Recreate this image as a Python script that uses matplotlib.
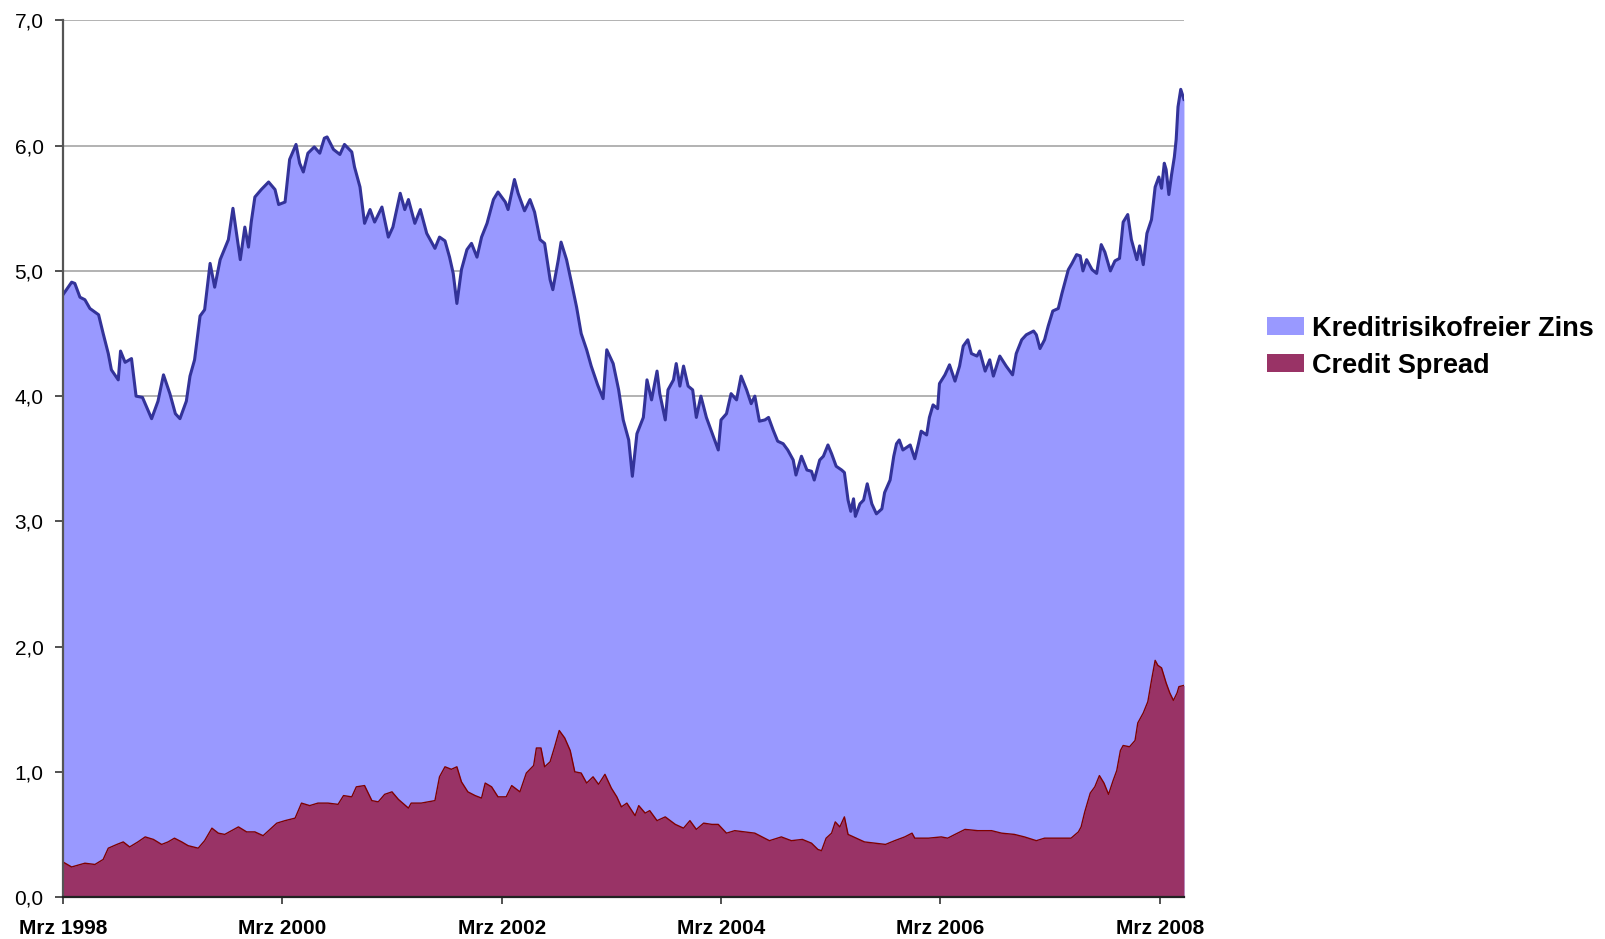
#!/usr/bin/env python3
from __future__ import annotations

import matplotlib

matplotlib.use("Agg")
import matplotlib.pyplot as plt
from matplotlib.patches import Patch

OUT = "out.png"

# months since Mrz 1998 / Rendite gesamt (Oberkante = Zins + Spread), in %
TOTAL_M = [
    0, 0.95, 1.3, 1.86, 2.4, 2.95, 3.9, 4.4, 4.96, 5.3, 6.05, 6.3, 6.8, 7.5, 8.0, 8.7, 9.7, 10.4,
    11.0, 11.7, 12.3, 12.8, 13.5, 13.9, 14.4, 15.0, 15.5, 16.1, 16.6, 17.2, 18.1, 18.6, 19.4, 19.9,
    20.3, 20.6, 21.0, 21.7, 22.5, 23.2, 23.6, 24.3, 24.8, 25.5, 25.9, 26.3, 26.8, 27.5, 28.1, 28.6,
    28.9, 29.6, 30.3, 30.8, 31.6, 31.9, 32.5, 33.0, 33.6, 34.1, 34.9, 35.6, 36.1, 36.9, 37.4, 37.8,
    38.5, 39.1, 39.8, 40.7, 41.2, 41.8, 42.3, 42.7, 43.1, 43.6, 44.2, 44.7, 45.3, 45.8, 46.4, 47.1,
    47.6, 48.4, 48.7, 49.4, 49.8, 50.5, 51.1, 51.6, 52.2, 52.7, 53.3, 53.6, 54.2, 54.5, 55.1, 55.6,
    56.2, 56.7, 57.3, 57.8, 58.5, 59.1, 59.5, 60.2, 60.8, 61.3, 61.9, 62.3, 62.8, 63.5, 63.9, 64.4,
    65.0, 65.3, 65.9, 66.2, 66.8, 67.1, 67.5, 67.9, 68.4, 68.9, 69.3, 69.8, 70.4, 70.9, 71.3, 71.7,
    72.0, 72.6, 73.1, 73.7, 74.2, 74.8, 75.3, 75.7, 76.2, 76.8, 77.2, 77.7, 78.2, 78.8, 79.3, 79.9,
    80.2, 80.8, 81.4, 81.9, 82.2, 82.8, 83.2, 83.7, 84.1, 84.6, 85.2, 85.5, 85.9, 86.2, 86.5, 86.7,
    87.2, 87.6, 88.0, 88.5, 89.0, 89.6, 89.9, 90.5, 90.9, 91.2, 91.5, 91.9, 92.7, 93.2, 93.6, 93.9,
    94.5, 94.8, 95.2, 95.7, 95.9, 96.5, 97.0, 97.6, 98.1, 98.5, 99.0, 99.4, 100.0, 100.3, 100.9,
    101.4, 101.8, 102.5, 103.2, 103.9, 104.3, 104.9, 105.4, 106.2, 106.5, 106.9, 107.4, 107.8,
    108.3, 108.9, 109.3, 109.6, 110.0, 110.4, 110.9, 111.3, 111.6, 112.0, 112.6, 113.1, 113.6,
    114.0, 114.6, 115.1, 115.6, 116.0, 116.5, 116.9, 117.5, 117.8, 118.2, 118.6, 119.1, 119.5,
    119.9, 120.2, 120.5, 120.7, 121.0, 121.3, 121.6, 121.8, 122.0, 122.3, 122.65,
]
TOTAL_V = [
    4.81, 4.91, 4.90, 4.79, 4.77, 4.70, 4.65, 4.50, 4.34, 4.21, 4.13, 4.36, 4.27, 4.30, 4.00, 3.99, 3.82, 3.96,
    4.17, 4.02, 3.86, 3.82, 3.96, 4.16, 4.29, 4.64, 4.69, 5.06, 4.87, 5.09, 5.25, 5.50, 5.09, 5.35,
    5.19, 5.39, 5.59, 5.65, 5.71, 5.65, 5.53, 5.55, 5.89, 6.01, 5.86, 5.79, 5.94, 5.99, 5.94, 6.06,
    6.07, 5.97, 5.93, 6.01, 5.95, 5.83, 5.67, 5.38, 5.49, 5.39, 5.51, 5.27, 5.35, 5.62, 5.49, 5.57,
    5.38, 5.49, 5.30, 5.18, 5.27, 5.24, 5.11, 4.98, 4.74, 5.01, 5.17, 5.22, 5.11, 5.27, 5.38, 5.57,
    5.63, 5.55, 5.49, 5.73, 5.62, 5.48, 5.57, 5.47, 5.25, 5.22, 4.93, 4.85, 5.09, 5.23, 5.09, 4.92,
    4.71, 4.50, 4.37, 4.24, 4.09, 3.98, 4.37, 4.26, 4.05, 3.81, 3.65, 3.36, 3.70, 3.83, 4.13, 3.97,
    4.20, 4.02, 3.81, 4.05, 4.13, 4.26, 4.08, 4.24, 4.08, 4.05, 3.83, 4.00, 3.83, 3.73, 3.65, 3.57,
    3.81, 3.86, 4.02, 3.97, 4.16, 4.05, 3.94, 4.00, 3.80, 3.81, 3.83, 3.73, 3.64, 3.62, 3.57, 3.49,
    3.37, 3.52, 3.41, 3.40, 3.33, 3.49, 3.52, 3.61, 3.54, 3.44, 3.41, 3.39, 3.17, 3.08, 3.18, 3.04,
    3.14, 3.17, 3.30, 3.14, 3.06, 3.10, 3.23, 3.33, 3.52, 3.62, 3.65, 3.57, 3.61, 3.50, 3.62, 3.72,
    3.69, 3.83, 3.93, 3.90, 4.10, 4.17, 4.25, 4.12, 4.24, 4.40, 4.45, 4.34, 4.32, 4.36, 4.20,
    4.29, 4.16, 4.32, 4.24, 4.17, 4.34, 4.45, 4.49, 4.52, 4.49, 4.38, 4.45, 4.56,
    4.68, 4.70, 4.82, 4.90, 5.01, 5.06, 5.13, 5.12, 5.00, 5.09, 5.01, 4.98, 5.21,
    5.15, 5.00, 5.08, 5.10, 5.39, 5.45, 5.25, 5.09, 5.20, 5.05, 5.30, 5.41, 5.67,
    5.75, 5.66, 5.86, 5.81, 5.61, 5.77, 5.91, 6.05, 6.31, 6.45, 6.37,
]

# Credit Spread, in %
SPREAD_M = [
    0, 0.95, 2.4, 3.5, 4.4, 4.96, 5.9, 6.6, 7.3, 8.2, 9.0, 9.9, 10.8, 11.5, 12.2, 13.0, 13.7, 14.8,
    15.5, 16.3, 17.0, 17.7, 19.2, 20.1, 21.0, 21.9, 22.8, 23.4, 24.3, 25.4, 26.1, 27.0, 27.9, 29.0,
    30.1, 30.7, 31.6, 32.1, 33.0, 33.8, 34.5, 35.2, 36.0, 36.7, 37.8, 38.1, 39.2, 40.7, 41.2, 41.8,
    42.5, 43.1, 43.6, 44.3, 45.1, 45.8, 46.2, 46.9, 47.6, 48.5, 49.1, 50.0, 50.7, 51.5, 51.8, 52.3,
    52.7, 53.3, 53.8, 54.3, 54.9, 55.5, 56.0, 56.7, 57.3, 58.0, 58.6, 59.3, 60.0, 60.6, 61.1, 61.7,
    62.6, 63.0, 63.7, 64.2, 65.0, 65.9, 67.0, 67.9, 68.6, 69.3, 70.1, 71.0, 71.7, 72.6, 73.5, 74.6,
    75.7, 76.5, 77.3, 78.6, 79.7, 80.9, 81.9, 82.6, 83.0, 83.5, 84.1, 84.5, 85.0, 85.5, 85.9, 86.8,
    87.7, 88.9, 90.0, 91.0, 92.1, 92.9, 93.2, 94.7, 96.1, 96.8, 97.6, 98.7, 100.1, 101.6, 102.7,
    104.1, 105.2, 106.5, 107.4, 108.9, 110.3, 111.1, 111.4, 111.8, 112.4, 112.9, 113.4, 113.9,
    114.4, 114.9, 115.3, 115.7, 116.0, 116.7, 117.3, 117.6, 118.2, 118.7, 119.1, 119.5, 119.8,
    120.2, 120.7, 121.1, 121.5, 121.9, 122.1, 122.65,
]
SPREAD_V = [
    0.28, 0.24, 0.27, 0.26, 0.30, 0.39, 0.42, 0.44, 0.40, 0.44, 0.48, 0.46, 0.42, 0.44, 0.47, 0.44, 0.41, 0.39,
    0.45, 0.55, 0.51, 0.50, 0.56, 0.52, 0.52, 0.49, 0.55, 0.59, 0.61, 0.63, 0.75, 0.73, 0.75, 0.75,
    0.74, 0.81, 0.80, 0.88, 0.89, 0.77, 0.76, 0.82, 0.84, 0.78, 0.71, 0.75, 0.75, 0.77, 0.96, 1.04,
    1.02, 1.04, 0.92, 0.84, 0.81, 0.79, 0.91, 0.88, 0.80, 0.80, 0.89, 0.84, 0.99, 1.05, 1.19, 1.19,
    1.04, 1.08, 1.20, 1.33, 1.27, 1.17, 1.00, 0.99, 0.91, 0.96, 0.90, 0.98, 0.87, 0.80, 0.72, 0.75,
    0.65, 0.73, 0.67, 0.69, 0.61, 0.64, 0.58, 0.55, 0.61, 0.54, 0.59, 0.58, 0.58, 0.51, 0.53, 0.52,
    0.51, 0.48, 0.45, 0.48, 0.45, 0.46, 0.43, 0.38, 0.37, 0.47, 0.51, 0.60, 0.56, 0.64, 0.50, 0.47,
    0.44, 0.43, 0.42, 0.45, 0.48, 0.51, 0.47, 0.47, 0.48, 0.47, 0.50, 0.54, 0.53, 0.53, 0.51,
    0.50, 0.48, 0.45, 0.47, 0.47, 0.47, 0.52, 0.56, 0.68, 0.83, 0.88, 0.97, 0.91,
    0.82, 0.93, 1.01, 1.17, 1.21, 1.20, 1.25, 1.39, 1.47, 1.56, 1.73, 1.89, 1.85,
    1.83, 1.71, 1.63, 1.57, 1.63, 1.68, 1.69,
]

X_TICKS = [0, 24, 48, 72, 96, 120]
X_LABELS = ["Mrz 1998", "Mrz 2000", "Mrz 2002", "Mrz 2004", "Mrz 2006", "Mrz 2008"]
Y_TICKS = [0, 1, 2, 3, 4, 5, 6, 7]
Y_LABELS = ["0,0", "1,0", "2,0", "3,0", "4,0", "5,0", "6,0", "7,0"]

SERIES_NAMES = ["Kreditrisikofreier Zins", "Credit Spread"]


def plot() -> None:
    plt.rcParams.update(
        {
            "font.family": ["Liberation Sans", "DejaVu Sans"],
            "figure.facecolor": "white",
            "axes.facecolor": "white",
            "savefig.facecolor": "white",
        }
    )

    fig = plt.figure(figsize=(16.06, 9.39), dpi=100)
    ax = fig.add_axes([0.0392, 0.0447, 0.6980, 0.9335])

    blue_fill = "#9999FF"
    blue_line = "#333399"
    red_fill = "#993366"
    red_line = "#800000"

    ax.fill_between(TOTAL_M, 0, TOTAL_V, color=blue_fill, lw=0, zorder=2)
    ax.plot(TOTAL_M, TOTAL_V, color=blue_line, lw=2.2, zorder=4)
    ax.fill_between(SPREAD_M, 0, SPREAD_V, color=red_fill, lw=0, zorder=3)
    ax.plot(SPREAD_M, SPREAD_V, color=red_line, lw=1.0, zorder=3.5)

    ax.set_xlim(0, 122.65)
    ax.set_ylim(0, 7)

    ax.set_yticks(Y_TICKS)
    ax.set_yticklabels(Y_LABELS)
    ax.set_xticks(X_TICKS)
    ax.set_xticklabels(X_LABELS, fontweight="bold")
    ax.tick_params(axis="y", length=6, width=1.2, color="#333333", labelsize=15, pad=8)
    ax.tick_params(axis="x", length=5, width=1.2, color="#333333", labelsize=15, pad=11)

    # grid behind the areas
    ax.grid(True, axis="y", color="#A6A6A6", lw=1.2, zorder=1)
    ax.set_axisbelow(True)

    for side in ("top", "right"):
        ax.spines[side].set_visible(False)
    ax.spines["left"].set_color("#555555")
    ax.spines["left"].set_linewidth(1.6)
    ax.spines["bottom"].set_color("#222222")
    ax.spines["bottom"].set_linewidth(1.6)
    ax.spines["left"].set_zorder(5)
    ax.spines["bottom"].set_zorder(5)

    handles = [Patch(facecolor=blue_fill, edgecolor="none"), Patch(facecolor=red_fill, edgecolor="none")]
    fig.legend(
        handles,
        SERIES_NAMES,
        loc="upper left",
        bbox_to_anchor=(0.789, 0.664),
        frameon=False,
        prop={"size": 19.5, "weight": "bold"},
        handlelength=1.35,
        handleheight=0.65,
        handletextpad=0.3,
        labelspacing=0.42,
        borderpad=0,
        borderaxespad=0,
    )

    fig.savefig(OUT, dpi=100)
    plt.close(fig)


def main() -> int:
    plot()
    print("[ok] saved:", OUT)
    return 0


if __name__ == "__main__":
    raise SystemExit(main())
